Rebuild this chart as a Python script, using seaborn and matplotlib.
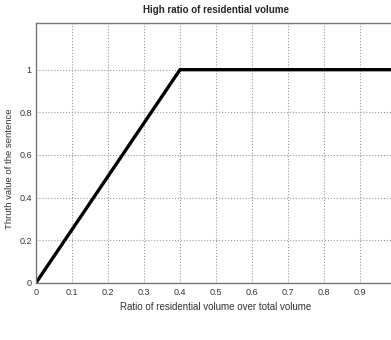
import matplotlib
matplotlib.use('Agg')
import matplotlib.pyplot as plt
import seaborn as sns
import pandas as pd

# membership function points
ratio = [0, 0.4, 1.0]
truth = [0, 1, 1]

xticks = [0, 0.1, 0.2, 0.3, 0.4, 0.5, 0.6, 0.7, 0.8, 0.9]
xlabels = ['0', '0.1', '0.2', '0.3', '0.4', '0.5', '0.6', '0.7', '0.8', '0.9']
yticks = [0, 0.2, 0.4, 0.6, 0.8, 1.0]
ylabels = ['0', '0.2', '0.4', '0.6', '0.8', '1']

df = pd.DataFrame({'ratio': ratio, 'truth': truth})

sns.set_style('white')
plt.rcParams['font.family'] = ['Liberation Sans', 'DejaVu Sans']

fig = plt.figure(figsize=(3.91, 3.40), dpi=100)
ax = fig.add_axes([0.092, 0.168, 0.921, 0.765])

sns.lineplot(data=df, x='ratio', y='truth', color='black', linewidth=2.4, ax=ax)

ax.set_xlim(0, 1)
ax.set_ylim(0, 1.22)
ax.set_xticks(xticks)
ax.set_xticklabels(xlabels, fontsize=6.5, color='#333333')
ax.set_yticks(yticks)
ax.set_yticklabels(ylabels, fontsize=6.5, color='#333333')
ax.tick_params(direction='in', length=3, color='#777777')
ax.tick_params(axis='x', pad=4)
ax.tick_params(axis='y', pad=3)
ax.grid(True, linestyle=':', color='#999999', linewidth=0.8)
for s in ax.spines.values():
    s.set_color('#777777')
    s.set_linewidth(1.0)

ax.set_xlabel('Ratio of residential volume over total volume', fontsize=7, color='#333333', labelpad=3)
ax.set_ylabel('Thruth value of the sentence', fontsize=6.8, color='#333333')
ax.yaxis.set_label_coords(-0.062, 0.44)
ax.set_title('High ratio of residential volume', fontsize=7, fontweight='bold', pad=7)

fig.savefig('out.png', dpi=100)
